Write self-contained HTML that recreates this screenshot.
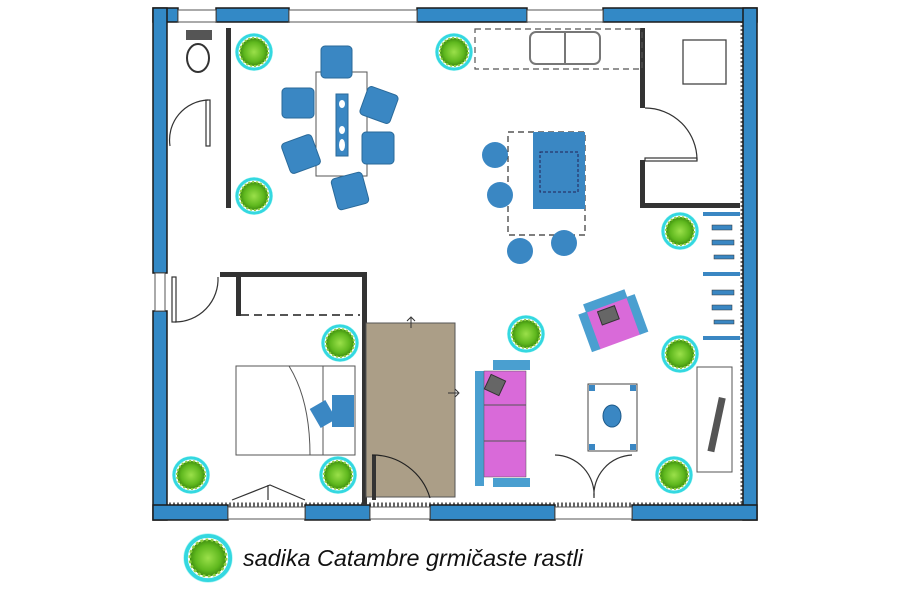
<!DOCTYPE html>
<html><head><meta charset="utf-8"><style>
html,body{margin:0;padding:0;background:#fff;width:900px;height:600px;overflow:hidden}
svg{display:block}
</style></head><body>
<svg width="900" height="600" viewBox="0 0 900 600" xmlns="http://www.w3.org/2000/svg">
<defs>
<radialGradient id="pg" cx="50%" cy="50%" r="50%">
<stop offset="0" stop-color="#9be04a"/><stop offset="0.7" stop-color="#5fb81e"/><stop offset="1" stop-color="#3f8f10"/>
</radialGradient>
<g id="plant">
<circle r="19" fill="#7ff0f0" opacity="0.6"/>
<circle r="17" fill="#fff" stroke="#34d8e0" stroke-width="3"/>
<circle r="14" fill="url(#pg)" stroke="#8fd040" stroke-width="2" stroke-dasharray="2 2"/>
</g>
</defs>

<rect x="160" y="20" width="583" height="485" fill="none" stroke="#666" stroke-width="5" stroke-dasharray="2 2"/>

<g fill="#3389c6" stroke="#1a1a1a" stroke-width="1.5">
<rect x="153" y="8" width="25" height="14"/>
<rect x="216" y="8" width="73" height="14"/>
<rect x="417" y="8" width="110" height="14"/>
<rect x="603" y="8" width="154" height="14"/>
<rect x="743" y="8" width="14" height="512"/>
<rect x="153" y="8" width="14" height="265"/>
<rect x="153" y="311" width="14" height="209"/>
<rect x="153" y="505" width="75" height="15"/>
<rect x="305" y="505" width="65" height="15"/>
<rect x="430" y="505" width="125" height="15"/>
<rect x="632" y="505" width="125" height="15"/>
</g>
<g fill="#fff" stroke="#555" stroke-width="1">
<rect x="289" y="10" width="128" height="12"/>
<rect x="178" y="10" width="38" height="12"/>
<rect x="527" y="10" width="76" height="12"/>
<rect x="228" y="507" width="77" height="12"/>
<rect x="370" y="507" width="60" height="12"/>
<rect x="555" y="507" width="77" height="12"/>
<rect x="155" y="273" width="10" height="38"/>
</g>

<g fill="#333">
<rect x="226" y="28" width="5" height="180"/>
<rect x="220" y="272" width="146" height="5"/>
<rect x="362" y="272" width="5" height="233"/>
<rect x="236" y="276" width="5" height="40"/>
<rect x="640" y="28" width="5" height="80"/>
<rect x="640" y="160" width="5" height="48"/>
<rect x="640" y="203" width="100" height="5"/>
</g>
<line x1="241" y1="315" x2="360" y2="315" stroke="#555" stroke-width="2" stroke-dasharray="8 5"/>

<g fill="none" stroke="#333" stroke-width="1.2">
<path d="M170 146 A40 40 0 0 1 208 100"/><rect x="206" y="100" width="4" height="46"/>
<path d="M175 322 A43 43 0 0 0 218 277"/><rect x="172" y="277" width="4" height="45"/>
<path d="M645 108 A52 52 0 0 1 697 160"/><rect x="645" y="158" width="52" height="3"/>
<path d="M555 455 A40 40 0 0 1 594 498 M632 455 A40 40 0 0 0 594 498"/>
<path d="M232 500 L270 485 L305 500 M268 485 L268 500"/>
</g>

<rect x="186" y="30" width="26" height="10" fill="#555"/>
<ellipse cx="198" cy="58" rx="11" ry="14" fill="#fff" stroke="#333" stroke-width="2"/>

<rect x="316" y="72" width="51" height="104" fill="#fff" stroke="#555"/>
<g fill="#3a87c3" stroke="#2a6a9a">
<rect x="321" y="46" width="31" height="32" rx="4"/>
<rect x="282" y="88" width="32" height="30" rx="4"/>
<rect x="363" y="90" width="32" height="30" rx="4" transform="rotate(20 379 105)"/>
<rect x="285" y="138" width="32" height="32" rx="4" transform="rotate(-20 301 154)"/>
<rect x="362" y="132" width="32" height="32" rx="4"/>
<rect x="334" y="175" width="32" height="32" rx="4" transform="rotate(-15 350 191)"/>
<rect x="336" y="94" width="12" height="62"/>
</g>
<g fill="#fff"><ellipse cx="342" cy="104" rx="3" ry="4"/><ellipse cx="342" cy="130" rx="3" ry="4"/><ellipse cx="342" cy="145" rx="3" ry="6"/></g>

<rect x="475" y="29" width="167" height="40" fill="none" stroke="#555" stroke-width="1.2" stroke-dasharray="6 4"/>
<rect x="530" y="32" width="70" height="32" fill="#fff" stroke="#777" stroke-width="2" rx="6"/>
<line x1="565" y1="32" x2="565" y2="64" stroke="#777" stroke-width="2"/>

<rect x="508" y="132" width="77" height="103" fill="none" stroke="#333" stroke-width="1.2" stroke-dasharray="6 4"/>
<rect x="533" y="132" width="52" height="77" fill="#3a87c3"/>
<rect x="540" y="152" width="38" height="40" fill="none" stroke="#225" stroke-dasharray="3 2"/>
<g fill="#3a87c3"><circle cx="495" cy="155" r="13"/><circle cx="500" cy="195" r="13"/><circle cx="520" cy="251" r="13"/><circle cx="564" cy="243" r="13"/></g>

<rect x="683" y="40" width="43" height="44" fill="#fff" stroke="#444" stroke-width="1.3"/>

<g fill="#3a87c3"><rect x="703" y="212" width="37" height="4"/><rect x="703" y="272" width="37" height="4"/><rect x="703" y="336" width="37" height="4"/></g>
<g fill="#3a87c3" stroke="#333" stroke-width="0.5">
<rect x="712" y="225" width="20" height="5"/><rect x="712" y="240" width="22" height="5"/><rect x="714" y="255" width="20" height="4"/>
<rect x="712" y="290" width="22" height="5"/><rect x="712" y="305" width="20" height="5"/><rect x="714" y="320" width="20" height="4"/>
</g>

<rect x="697" y="367" width="35" height="105" fill="#fff" stroke="#555"/>
<rect x="713" y="397" width="7" height="55" fill="#555" transform="rotate(12 716 425)"/>

<rect x="366" y="323" width="89" height="174" fill="#ab9e87" stroke="#555"/>
<path d="M411 328 V318 M407 321 L411 317 L415 321 M448 393 H458 M455 389 L459 393 L455 397" stroke="#333" fill="none"/>
<rect x="372" y="455" width="4" height="45" fill="#333"/>
<path d="M372 455 A60 60 0 0 1 430 498" fill="none" stroke="#222" stroke-width="1.2"/>

<rect x="236" y="366" width="119" height="89" fill="#fff" stroke="#555"/>
<line x1="323" y1="366" x2="323" y2="455" stroke="#555"/>
<path d="M289 366 Q310 400 310 455" fill="none" stroke="#555"/>
<rect x="332" y="395" width="22" height="32" fill="#3a87c3"/>
<rect x="314" y="403" width="18" height="22" fill="#3a87c3" transform="rotate(-30 323 414)"/>

<rect x="475" y="371" width="9" height="115" fill="#4a9fd0"/>
<rect x="493" y="360" width="37" height="10" fill="#4a9fd0"/>
<rect x="493" y="478" width="37" height="9" fill="#4a9fd0"/>
<rect x="484" y="371" width="42" height="106" fill="#d96ad9" stroke="#555" stroke-width="0.5"/>
<line x1="484" y1="405" x2="526" y2="405" stroke="#555"/><line x1="484" y1="441" x2="526" y2="441" stroke="#555"/>
<rect x="487" y="377" width="16" height="16" fill="#666" stroke="#333" transform="rotate(25 495 385)"/>

<g transform="rotate(-20 614 325)">
<rect x="592" y="303" width="44" height="40" fill="#d96ad9"/>
<rect x="592" y="295" width="44" height="9" fill="#4a9fd0"/>
<rect x="584" y="303" width="9" height="40" fill="#4a9fd0"/>
<rect x="635" y="303" width="9" height="40" fill="#4a9fd0"/>
<rect x="603" y="307" width="18" height="14" fill="#666" stroke="#333"/>
</g>

<rect x="588" y="384" width="49" height="67" fill="#fff" stroke="#444"/>
<g fill="#3a87c3"><rect x="589" y="385" width="6" height="6"/><rect x="630" y="385" width="6" height="6"/><rect x="589" y="444" width="6" height="6"/><rect x="630" y="444" width="6" height="6"/></g>
<ellipse cx="612" cy="416" rx="9" ry="11" fill="#3a87c3" stroke="#1d5a8a"/>

<use href="#plant" x="254" y="52"/>
<use href="#plant" x="454" y="52"/>
<use href="#plant" x="254" y="196"/>
<use href="#plant" x="680" y="231"/>
<use href="#plant" x="340" y="343"/>
<use href="#plant" x="526" y="334"/>
<use href="#plant" x="680" y="354"/>
<use href="#plant" x="191" y="475"/>
<use href="#plant" x="338" y="475"/>
<use href="#plant" x="674" y="475"/>
<g transform="translate(208 558) scale(1.3)"><use href="#plant"/></g>

<text x="243" y="566" font-family="Liberation Sans, sans-serif" font-style="italic" font-size="23" textLength="340" lengthAdjust="spacingAndGlyphs" fill="#111">sadika Catambre grmičaste rastli</text>
</svg>
</body></html>
